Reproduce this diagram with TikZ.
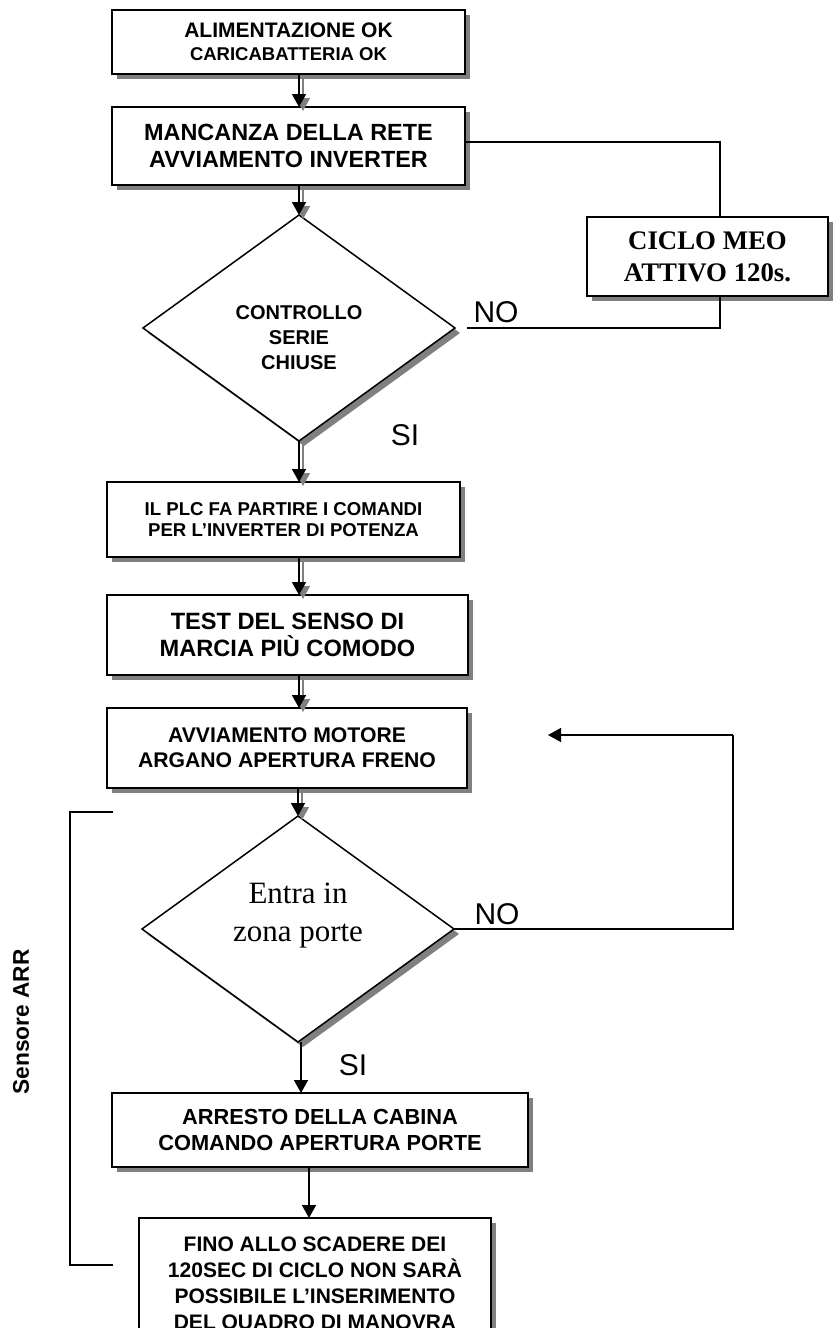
\documentclass[tikz,border=0pt]{standalone}
\usepackage{fontspec}
\usetikzlibrary{shapes.geometric,shadows,arrows.meta,calc}
\newfontfamily\arial{Liberation Sans}
\newfontfamily\tnr{Liberation Serif}
\tikzset{
  shad/.style={drop shadow={shadow xshift=5pt,shadow yshift=-5pt,fill=gray,opacity=1}},
  box/.style={draw, line width=1.5pt, fill=white, rectangle, inner sep=0pt, outer sep=0pt, align=center, shad},
  dia/.style={draw, line width=1.5pt, fill=white, diamond, inner sep=0pt, outer sep=0pt, minimum width=312pt, minimum height=226pt, shad},
  conn/.style={line width=1.5pt, -{Triangle[length=13pt,width=14pt]}},
  connshadow/.style={conn, draw=gray, fill=gray, transform canvas={shift={(4pt,-4pt)}}},
  loopline/.style={line width=1.4pt},
  lbl/.style={font=\arial\fontsize{30}{34}\selectfont, inner sep=0pt}
}
\begin{document}
\begin{tikzpicture}[x=1pt,y=-1pt]
\useasboundingbox (0,0) rectangle (835,1328);
\clip (0,0) rectangle (835,1328);
\fill[white] (0,0) rectangle (835,1328);

% boxes
\node[box, minimum width=353pt, minimum height=64pt, font=\arial\bfseries\fontsize{21}{22.5}\selectfont] (b1) at (288.5,42)
  {ALIMENTAZIONE OK\\{\fontsize{18.5}{22.5}\selectfont CARICABATTERIA OK}};
\node[box, minimum width=353pt, minimum height=78pt, font=\arial\bfseries\fontsize{23.4}{27}\selectfont] (b2) at (288.5,146)
  {MANCANZA DELLA RETE\\AVVIAMENTO INVERTER};
\node[box, minimum width=241pt, minimum height=79pt, font=\tnr\bfseries\fontsize{26.8}{32}\selectfont] (ciclo) at (707.5,256.5)
  {CICLO MEO\\ATTIVO 120s.};
\node[dia] (d1) at (299,328) {};
\node[font=\arial\bfseries\fontsize{20}{25}\selectfont, align=center, inner sep=0pt] (d1t) at ($(d1)+(0,10)$)
  {CONTROLLO\\SERIE\\CHIUSE};
\node[box, minimum width=353pt, minimum height=75pt, font=\arial\bfseries\fontsize{18.6}{20.5}\selectfont] (b3) at (283.5,519.5)
  {IL PLC FA PARTIRE I COMANDI\\PER L’INVERTER DI POTENZA};
\node[box, minimum width=361pt, minimum height=80pt, font=\arial\bfseries\fontsize{23.6}{27}\selectfont] (b4) at (287.5,635)
  {TEST DEL SENSO DI\\MARCIA PIÙ COMODO};
\node[box, minimum width=360pt, minimum height=80pt, font=\arial\bfseries\fontsize{21.2}{25}\selectfont] (b5) at (287,748)
  {AVVIAMENTO MOTORE\\ARGANO APERTURA FRENO};
\node[dia] (d2) at (298,929) {};
\node[font=\tnr\fontsize{31}{38}\selectfont, align=center, inner sep=0pt] (d2t) at ($(d2)+(0,-13)$)
  {Entra in\\zona porte};
\node[box, minimum width=416pt, minimum height=74pt, font=\arial\bfseries\fontsize{21.8}{26}\selectfont] (b6) at (320,1130)
  {ARRESTO DELLA CABINA\\COMANDO APERTURA PORTE};
\node[box, minimum width=352pt, minimum height=134pt, font=\arial\bfseries\fontsize{21}{26}\selectfont] (b7) at (315,1285)
  {FINO ALLO SCADERE DEI\\120SEC DI CICLO NON SARÀ\\POSSIBILE L’INSERIMENTO\\DEL QUADRO DI MANOVRA};

% shadowed arrows (upper part)
\foreach \a/\b/\c in {b1/b2/d1, b2/d1/d1, d1/b3/d1, b3/b4/d1, b4/b5/d1, b5/d2/d2}{
  \draw[connshadow] (\a.south -| \c.north) -- (\b.north -| \c.north);
  \draw[conn] (\a.south -| \c.north) -- (\b.north -| \c.north);
}
% lower arrows
\draw[conn] ([xshift=3pt]d2.south) -- ([xshift=3pt]d2.south |- b6.north);
\draw[conn] ([xshift=-11pt]b6.south) -- ([xshift=-11pt]b6.south |- b7.north);

% loop 1 (MEO)
\coordinate (cx) at (720,142);
\draw[loopline] (b2.east |- cx) -- (cx) -- (cx |- ciclo.north);
\draw[loopline] (cx |- ciclo.south) -- (cx |- d1.east) -- ([xshift=12pt]d1.east);
\node[lbl] (no1) at (496,312) {NO};
\node[lbl] (si1) at (405,435) {SI};

% loop 2
\coordinate (rx) at (733,735);
\coordinate (ret) at (548,735);
\draw[loopline] (d2.east) -- (rx |- d2.east) -- (rx);
\draw[loopline, -{Triangle[length=13pt,width=14pt]}] (rx) -- (ret);
\node[lbl] (no2) at (497,914) {NO};
\node[lbl] (si2) at (353,1065) {SI};

% bracket
\coordinate (bt) at (113,812);
\coordinate (bb) at (113,1265);
\draw[loopline] (bt) -- (70,812) -- (70,1265) -- (bb);
\node[rotate=90, font=\arial\bfseries\fontsize{22.7}{26}\selectfont, inner sep=0pt] (sens) at (21,1022) {Sensore ARR};
\end{tikzpicture}
\end{document}
